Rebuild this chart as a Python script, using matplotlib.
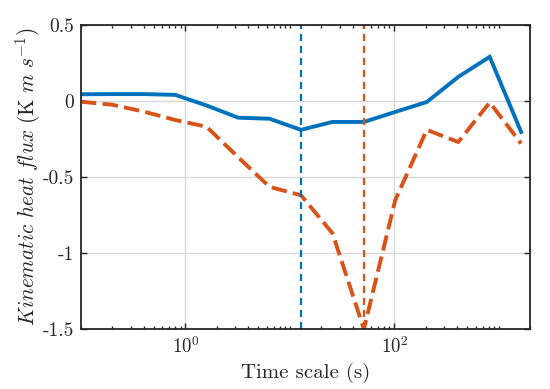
import matplotlib
matplotlib.use("Agg")
import matplotlib.pyplot as plt
from matplotlib.ticker import FixedLocator, LogLocator, NullFormatter

plt.rcParams['mathtext.fontset'] = 'cm'

time_scale = [0.1, 0.2, 0.4, 0.8, 1.6, 3.2, 6.4, 12.8, 25.6, 51.2, 102.4, 204.8, 409.6, 819.2, 1638.4]
flux_blue = [0.044, 0.045, 0.045, 0.04, -0.03, -0.11, -0.117, -0.19, -0.138, -0.138, -0.072, -0.007, 0.158, 0.29, -0.204]
flux_orange = [-0.005, -0.025, -0.07, -0.125, -0.17, -0.37, -0.565, -0.62, -0.87, -1.5, -0.65, -0.19, -0.27, -0.01, -0.28]
vline_blue = 12.8
vline_orange = 51.2
yticks = [-1.5, -1.0, -0.5, 0.0, 0.5]
ytick_labels = ['-1.5', '-1', '-0.5', '0', '0.5']
xticks = [1, 100]
xtick_labels = [r'$10^0$', r'$10^2$']

blue = '#0072BD'
orange = '#D95319'
axcol = '#262626'

fig = plt.figure(figsize=(5.5, 3.89), dpi=100)
ax = fig.add_axes([0.147, 0.154, 0.817, 0.782])

ax.plot(time_scale, flux_blue, color=blue, lw=2.8, solid_joinstyle='miter')
ax.plot(time_scale, flux_orange, color=orange, lw=2.8, ls=(0, (4.0, 1.6)))
ax.axvline(vline_blue, color=blue, lw=1.6, ls=(0, (3.2, 2.2)))
ax.axvline(vline_orange, color=orange, lw=1.6, ls=(0, (3.2, 2.2)))

ax.set_xscale('log')
ax.set_xlim(0.1, 2000)
ax.set_ylim(-1.5, 0.5)

ax.xaxis.set_major_locator(FixedLocator(xticks))
ax.set_xticklabels(xtick_labels, fontsize=13.5)
ax.xaxis.set_minor_locator(LogLocator(base=10, subs=[1, 2, 3, 4, 5, 6, 7, 8, 9], numticks=20))
ax.xaxis.set_minor_formatter(NullFormatter())
ax.set_yticks(yticks)
ax.set_yticklabels(ytick_labels, fontfamily='cmr10', fontsize=14)

ax.grid(True, which='major', color='#d9d9d9', lw=1.0)
ax.set_axisbelow(True)

ax.tick_params(which='both', direction='in', top=True, right=True, colors=axcol, labelcolor=axcol, width=1.0)
ax.tick_params(which='major', length=4, pad=5)
ax.tick_params(which='minor', length=2.5)
for s in ax.spines.values():
    s.set_color(axcol)
    s.set_linewidth(1.3)

ax.set_xlabel('Time scale (s)', fontfamily='cmr10', fontsize=15, color=axcol, labelpad=4)
ax.set_ylabel(r'$Kinematic\ heat\ flux\ (\mathrm{K}\ m\ s^{-1})$', fontsize=15.3, color=axcol, labelpad=0)

fig.savefig('out.png', dpi=100)
